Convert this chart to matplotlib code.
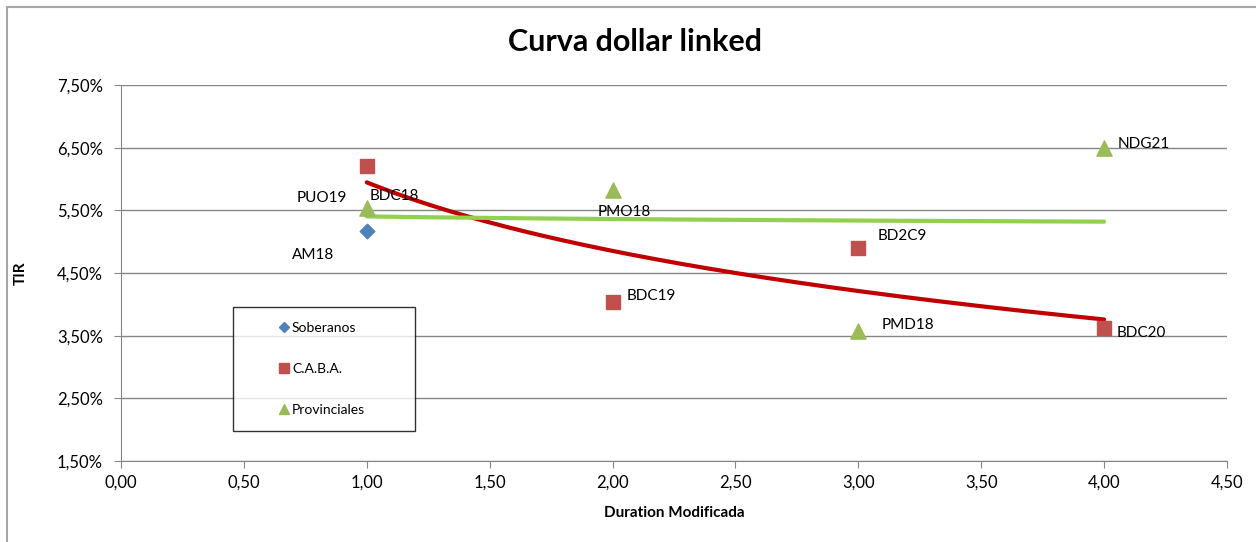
import numpy as np
import matplotlib.pyplot as plt
from matplotlib.lines import Line2D
from matplotlib.ticker import FuncFormatter

plt.rcParams['font.family'] = ['Lato', 'DejaVu Sans']

# Soberanos
sob_x = [1.0]
sob_y = [5.17]
sob_lbl = ['AM18']

# C.A.B.A.
caba_x = [1.0, 2.0, 3.0, 4.0]
caba_y = [6.21, 4.04, 4.90, 3.62]
caba_lbl = ['BDC18', 'BDC19', 'BD2C9', 'BDC20']

# Provinciales
prov_x = [1.0, 2.0, 3.0, 4.0]
prov_y = [5.54, 5.82, 3.57, 6.49]
prov_lbl = ['PUO19', 'PMO18', 'PMD18', 'NDG21']

blue = '#4f81bd'
red = '#c0504d'
green = '#9bbb59'

fig = plt.figure(figsize=(12.56, 5.42), dpi=100)
W, H = 1256, 542
ax = fig.add_axes([121 / W, 1 - 461 / H, (1227 - 121) / W, (461 - 85) / H])

# chart border
fig.add_artist(Line2D([7 / W, 7 / W], [0, 1 - 7 / H], color='#a6a6a6', lw=1.5))
fig.add_artist(Line2D([7 / W, 1], [1 - 7 / H, 1 - 7 / H], color='#a6a6a6', lw=1.5))

ax.scatter(sob_x, sob_y, marker='D', s=55, color=blue, zorder=3)
ax.scatter(caba_x, caba_y, marker='s', s=110, color=red, zorder=3)
ax.scatter(prov_x, prov_y, marker='^', s=120, color=green, zorder=3)

# logarithmic trend lines
xs = np.linspace(1, 4, 200)
b, a = np.polyfit(np.log(caba_x), caba_y, 1)
ax.plot(xs, a + b * np.log(xs), color='#c00000', lw=3, solid_capstyle='round', zorder=2)
b2, a2 = np.polyfit(np.log(prov_x), prov_y, 1)
ax.plot(xs, a2 + b2 * np.log(xs), color='#92d050', lw=3, solid_capstyle='round', zorder=2)

# point labels (offsets in pixels: left edge, vertical centre)
fs = 11
ax.annotate(sob_lbl[0], (sob_x[0], sob_y[0]), xytext=(-75, -24), textcoords='offset pixels',
            fontsize=fs, va='center')
offs_caba = [(3, -30), (14, 6), (19, 12), (13, -5)]
for x, y, t, o in zip(caba_x, caba_y, caba_lbl, offs_caba):
    ax.annotate(t, (x, y), xytext=o, textcoords='offset pixels', fontsize=fs, va='center')
offs_prov = [(-70, 10), (-15, -22), (23, 6), (14, 4)]
for x, y, t, o in zip(prov_x, prov_y, prov_lbl, offs_prov):
    ax.annotate(t, (x, y), xytext=o, textcoords='offset pixels', fontsize=fs, va='center')

ax.set_xlim(0, 4.5)
ax.set_ylim(1.5, 7.5)
ax.set_xticks(np.arange(0, 4.51, 0.5))
ax.set_yticks(np.arange(1.5, 7.51, 1.0))
ax.xaxis.set_major_formatter(FuncFormatter(lambda v, p: f'{v:.2f}'.replace('.', ',')))
ax.yaxis.set_major_formatter(FuncFormatter(lambda v, p: f'{v:.2f}%'.replace('.', ',')))
ax.tick_params(labelsize=12, color='#868686', length=5, direction='out')
ax.tick_params(axis='x', pad=5)
ax.tick_params(axis='y', pad=8)
ax.grid(axis='y', color='#868686', lw=1)
ax.set_axisbelow(True)
for s in ['top', 'right']:
    ax.spines[s].set_visible(False)
for s in ['left', 'bottom']:
    ax.spines[s].set_color('#868686')

ax.set_xlabel('Duration Modificada', fontsize=11, fontweight='bold', labelpad=11)
ax.set_ylabel('TIR', fontsize=11, fontweight='bold')
ax.yaxis.set_label_coords((28 - 121) / 1106, 0.5)
fig.suptitle('Curva dollar linked', fontsize=22, fontweight='bold', y=1 - 42 / H, va='center', x=635 / W)

handles = [
    Line2D([], [], marker='D', color=blue, ls='', markersize=5),
    Line2D([], [], marker='s', color=red, ls='', markersize=7),
    Line2D([], [], marker='^', color=green, ls='', markersize=7),
]
lx0 = (233 - 121) / 1106
lw_ = (415 - 233) / 1106
ly0 = (461 - 428) / 376
lh = (428 - 307) / 376
leg = ax.legend(handles, ['Soberanos', 'C.A.B.A.', 'Provinciales'], loc='upper left',
                bbox_to_anchor=(lx0, ly0, lw_, lh), mode='expand', fontsize=10,
                frameon=True, fancybox=False, edgecolor='black', labelspacing=2.1,
                handletextpad=-2.1, handlelength=5.3, borderpad=1.05, borderaxespad=0)
leg.get_frame().set_linewidth(1)

fig.savefig('out.png', dpi=100)
